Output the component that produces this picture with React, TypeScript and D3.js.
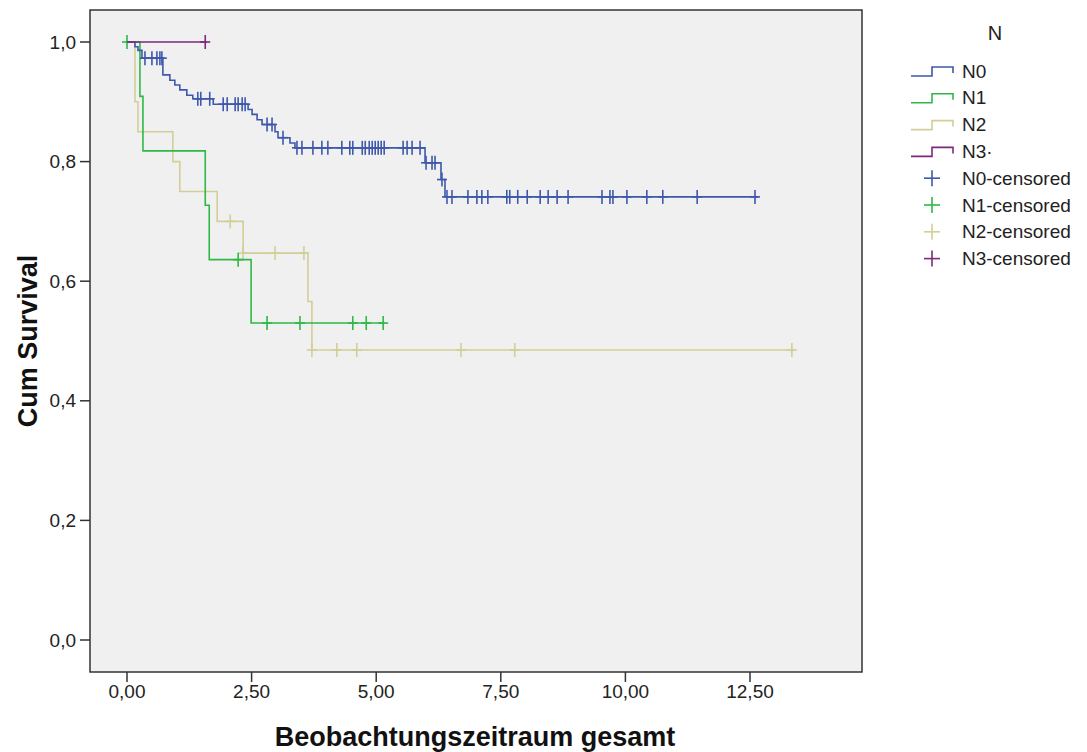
import React from "react";
import * as d3 from "d3";

// ---------- data ----------
const groups = ["N0", "N1", "N2", "N3"];
const groupColors = ["#3E58AC", "#2EB848", "#D3CE97", "#7C287D"];

const n0EventTimes = [0.16, 0.22, 0.30, 0.72, 0.86, 0.96, 1.06, 1.20, 1.32, 1.73, 2.43, 2.51, 2.61, 2.71, 2.97, 3.03, 3.27, 3.37, 5.98, 6.30, 6.38];
const n0Survival = [0.992, 0.986, 0.973, 0.945, 0.936, 0.928, 0.920, 0.911, 0.905, 0.896, 0.887, 0.879, 0.870, 0.862, 0.850, 0.840, 0.831, 0.823, 0.798, 0.770, 0.741];
const n0Censored = [0.36, 0.50, 0.60, 0.66, 0.70, 1.42, 1.48, 1.66, 1.93, 2.01, 2.17, 2.23, 2.31, 2.37, 2.81, 2.91, 3.13,
  3.41, 3.51, 3.73, 3.91, 4.03, 4.31, 4.47, 4.53, 4.72, 4.78, 4.86, 4.92, 4.98, 5.04, 5.10, 5.16, 5.54, 5.62, 5.72, 5.88,
  6.00, 6.12, 6.18, 6.32, 6.42, 6.52, 6.84, 7.02, 7.12, 7.24, 7.62, 7.68, 7.84, 8.03, 8.29, 8.45, 8.63, 8.85, 9.53, 9.69,
  9.75, 10.03, 10.43, 10.75, 11.44, 12.60];
const n0End = 12.66;

const n1EventTimes = [0.26, 0.32, 1.57, 1.65, 2.49];
const n1Survival = [0.909, 0.818, 0.727, 0.636, 0.530];
const n1Censored = [0.0, 2.23, 2.81, 3.47, 4.53, 4.80, 5.14];
const n1End = 5.18;

const n2EventTimes = [0.16, 0.22, 0.92, 1.06, 1.81, 2.33, 3.63, 3.71];
const n2Survival = [0.90, 0.85, 0.80, 0.75, 0.70, 0.647, 0.566, 0.485];
const n2Censored = [2.07, 2.33, 2.97, 3.55, 3.71, 4.21, 4.61, 6.70, 7.78, 13.34];
const n2End = 13.40;

const n3EventTimes: number[] = [];
const n3Survival: number[] = [];
const n3Censored = [1.57];
const n3End = 1.60;

const xTicks = [0, 2.5, 5, 7.5, 10, 12.5];
const yTicks = [0, 0.2, 0.4, 0.6, 0.8, 1.0];
const legendLineLabels = ["N0", "N1", "N2", "N3·"];
const legendCensorLabels = ["N0-censored", "N1-censored", "N2-censored", "N3-censored"];
const xTitle = "Beobachtungszeitraum gesamt";
const yTitle = "Cum Survival";
const legendTitle = "N";

// ---------- layout ----------
const W = 1087;
const H = 752;
const frame = { left: 90, top: 10, right: 862, bottom: 672 };
const FONT = "'Liberation Sans', Arial, sans-serif";
const TEXT = "#222";

const series = [
  { times: n0EventTimes, surv: n0Survival, cens: n0Censored, end: n0End },
  { times: n1EventTimes, surv: n1Survival, cens: n1Censored, end: n1End },
  { times: n2EventTimes, surv: n2Survival, cens: n2Censored, end: n2End },
  { times: n3EventTimes, surv: n3Survival, cens: n3Censored, end: n3End },
];

function survAt(times: number[], surv: number[], t: number) {
  let s = 1;
  for (let i = 0; i < times.length; i++) if (times[i] <= t + 1e-9) s = surv[i];
  return s;
}

export default function App() {
  const x = d3.scaleLinear().domain([0, 12.5]).range([127, 750]);
  const y = d3.scaleLinear().domain([0, 1]).range([640, 42]);
  const line = d3
    .line<[number, number]>()
    .x((d) => x(d[0]))
    .y((d) => y(d[1]))
    .curve(d3.curveStepAfter);

  const fmtX = (v: number) => d3.format(".2f")(v).replace(".", ",");
  const fmtY = (v: number) => d3.format(".1f")(v).replace(".", ",");

  const drawOrder = [2, 1, 0, 3];

  const legendX = 911;
  const legendY0 = 71;
  const legendStep = 26.8;

  return (
    <svg width={W} height={H} style={{ position: "absolute", left: 0, top: 0, background: "#fff" }}>
      <rect
        x={frame.left}
        y={frame.top}
        width={frame.right - frame.left}
        height={frame.bottom - frame.top}
        fill="#F0F0F0"
        stroke="#333"
        strokeWidth={1.5}
      />
      {/* y axis ticks */}
      {yTicks.map((v) => (
        <g key={"y" + v}>
          <line x1={frame.left - 10} x2={frame.left} y1={y(v)} y2={y(v)} stroke="#333" strokeWidth={1.5} />
          <text x={76} y={y(v)} dy="0.35em" textAnchor="end" fontFamily={FONT} fontSize={19} fill={TEXT}>
            {fmtY(v)}
          </text>
        </g>
      ))}
      {/* x axis ticks */}
      {xTicks.map((v) => (
        <g key={"x" + v}>
          <line x1={x(v)} x2={x(v)} y1={frame.bottom} y2={frame.bottom + 10} stroke="#333" strokeWidth={1.5} />
          <text x={x(v)} y={698} textAnchor="middle" fontFamily={FONT} fontSize={19} fill={TEXT}>
            {fmtX(v)}
          </text>
        </g>
      ))}
      {/* titles */}
      <text x={475} y={746} textAnchor="middle" fontFamily={FONT} fontSize={27} fontWeight="bold" fill="#111">
        {xTitle}
      </text>
      <text
        transform={`translate(37,341) rotate(-90)`}
        textAnchor="middle"
        fontFamily={FONT}
        fontSize={27}
        fontWeight="bold"
        fill="#111"
      >
        {yTitle}
      </text>

      {/* curves */}
      {drawOrder.map((gi) => {
        const s = series[gi];
        const pts: [number, number][] = [[0, 1]];
        s.times.forEach((t, i) => pts.push([t, s.surv[i]]));
        pts.push([s.end, s.surv.length ? s.surv[s.surv.length - 1] : 1]);
        return (
          <g key={groups[gi]}>
            <path d={line(pts) || ""} fill="none" stroke={groupColors[gi]} strokeWidth={1.6} />
            {s.cens.map((t, k) => {
              const cx = x(t);
              const cy = y(survAt(s.times, s.surv, t));
              return (
                <g key={k} stroke={groupColors[gi]} strokeWidth={1.6}>
                  <line x1={cx - 5} x2={cx + 5} y1={cy} y2={cy} />
                  <line x1={cx} x2={cx} y1={cy - 7} y2={cy + 7} />
                </g>
              );
            })}
          </g>
        );
      })}

      {/* legend */}
      <text x={995} y={33} dy="0.35em" textAnchor="middle" fontFamily={FONT} fontSize={20} fill={TEXT}>
        {legendTitle}
      </text>
      {groups.map((g, i) => {
        const cy = legendY0 + i * legendStep;
        return (
          <g key={"ll" + g}>
            <path
              d={`M${legendX},${cy + 5}H${legendX + 21}V${cy - 4}H${legendX + 42}V${cy + 2}`}
              fill="none"
              stroke={groupColors[i]}
              strokeWidth={1.6}
            />
            <text x={962} y={cy} dy="0.35em" fontFamily={FONT} fontSize={19} fill={TEXT}>
              {legendLineLabels[i]}
            </text>
          </g>
        );
      })}
      {groups.map((g, i) => {
        const cy = legendY0 + (i + 4) * legendStep;
        const cx = 932;
        return (
          <g key={"lc" + g}>
            <g stroke={groupColors[i]} strokeWidth={1.6}>
              <line x1={cx - 8} x2={cx + 8} y1={cy} y2={cy} />
              <line x1={cx} x2={cx} y1={cy - 8} y2={cy + 8} />
            </g>
            <text x={962} y={cy} dy="0.35em" fontFamily={FONT} fontSize={19} fill={TEXT}>
              {legendCensorLabels[i]}
            </text>
          </g>
        );
      })}
    </svg>
  );
}
